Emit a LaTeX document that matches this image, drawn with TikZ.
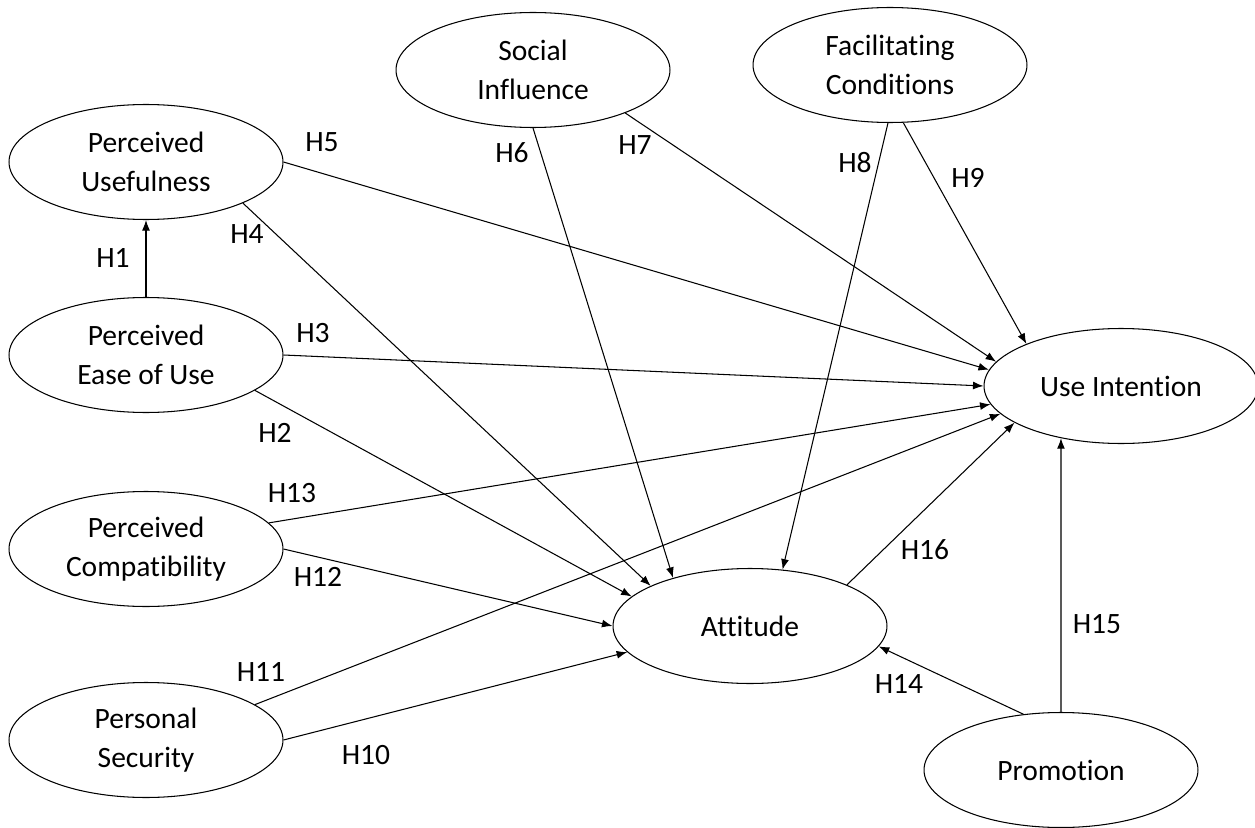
\documentclass[tikz,border=0pt]{standalone}
\usepackage{fontspec}
\setmainfont{Carlito}[Ligatures=NoCommon]
\usetikzlibrary{shapes.geometric,arrows.meta}
\begin{document}
\begin{tikzpicture}[x=0.02cm,y=-0.02cm,
    constructo/.style={ellipse,draw,line width=0.6pt,minimum width=5.48cm,minimum height=2.3cm,
        inner sep=0pt,align=center,font=\fontsize{16.8}{22}\selectfont},
    hip/.style={font=\fontsize{16.8}{22}\selectfont},
    flecha/.style={-{Latex[length=6pt,width=4.5pt]},line width=0.6pt}]
    \useasboundingbox (0,0) rectangle (1255,828);

    % Dibuja los constructos
    \node[constructo] (pu) at (146,162) {Perceived\\Usefulness};
    \node[constructo] (peu) at (146,355) {Perceived\\Ease of Use};
    \node[constructo] (pc) at (146,549) {Perceived\\Compatibility};
    \node[constructo] (ps) at (146,740) {Personal\\Security};
    \node[constructo] (si) at (533,70) {Social\\Influence};
    \node[constructo] (fc) at (890,65) {Facilitating\\Conditions};
    \node[constructo] (ui) at (1121,386) {Use Intention};
    \node[constructo] (at) at (750,626) {Attitude};
    \node[constructo] (pr) at (1061,770) {Promotion};

    % Dibuja las hipótesis
    \draw[flecha] (peu.90) -- (pu.270);
    \draw[flecha] (peu.342) -- (at.166);
    \draw[flecha] (peu.0) -- (ui.180);
    \draw[flecha] (pu.337) -- (at.158);
    \draw[flecha] (pu.0) -- (ui.173);
    \draw[flecha] (si.270) -- (at.148);
    \draw[flecha] (si.335) -- (ui.169);
    \draw[flecha] (fc.268) -- (at.60);
    \draw[flecha] (fc.283) -- (ui.156);
    \draw[flecha] (ps.0) -- (at.192);
    \draw[flecha] (ps.18) -- (ui.193);
    \draw[flecha] (pc.0) -- (at.180);
    \draw[flecha] (pc.12) -- (ui.188);
    \draw[flecha] (pr.124) -- (at.351);
    \draw[flecha] (pr.90) -- (ui.221);
    \draw[flecha] (at.23) -- (ui.199);

    % Etiquetas
    \node[hip] (h1) at (113,258) {H1};
    \node[hip] (h2) at (275,433) {H2};
    \node[hip] (h3) at (313,333) {H3};
    \node[hip] (h4) at (247,234) {H4};
    \node[hip] (h5) at (322,142) {H5};
    \node[hip] (h6) at (512,153) {H6};
    \node[hip] (h7) at (635,145) {H7};
    \node[hip] (h8) at (855,163) {H8};
    \node[hip] (h9) at (968,178) {H9};
    \node[hip] (h10) at (366,755) {H10};
    \node[hip] (h11) at (261,672) {H11};
    \node[hip] (h12) at (318,577) {H12};
    \node[hip] (h13) at (292,493) {H13};
    \node[hip] (h14) at (899,684) {H14};
    \node[hip] (h15) at (1097,624) {H15};
    \node[hip] (h16) at (925,550) {H16};
\end{tikzpicture}
\end{document}
